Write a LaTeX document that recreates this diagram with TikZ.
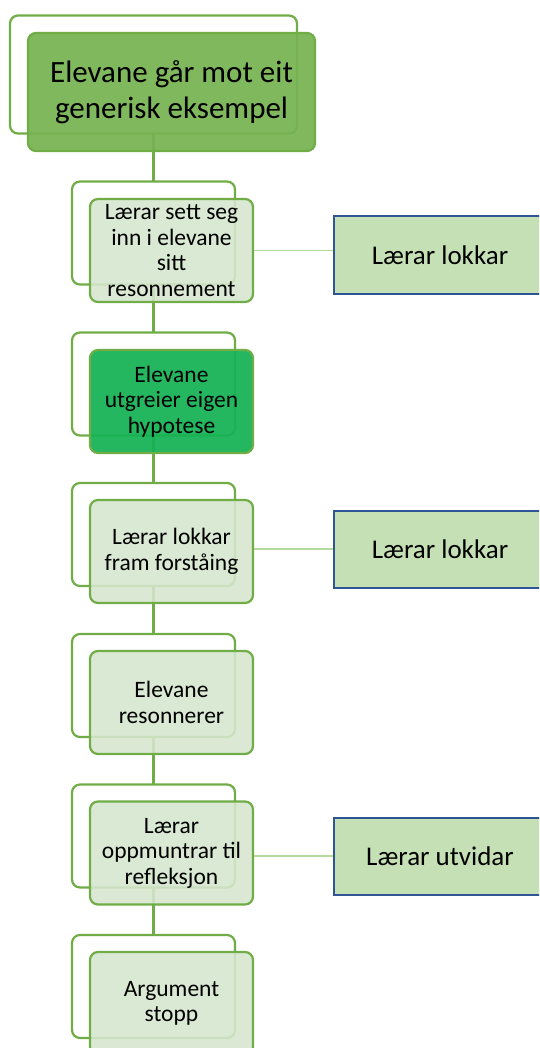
\documentclass[tikz,border=0pt]{standalone}
\usepackage{fontspec}
\setmainfont{Carlito}
\usepackage{tikz}
\usetikzlibrary{shapes}
\definecolor{vert}{HTML}{70AD47}
\definecolor{vertfonce}{HTML}{77B352}
\definecolor{vertvif}{HTML}{14B254}
\definecolor{vertpale}{HTML}{D6E6CE}
\definecolor{vertclair}{HTML}{C5E0B4}
\definecolor{trait}{HTML}{B4D99C}
\definecolor{bleu}{HTML}{2F5597}

\begin{document}
\begin{tikzpicture}[x=1pt,y=-1pt]
  \tikzstyle{ombre}=[rectangle, draw=vert, fill=white, line width=2.2pt, rounded corners=8pt, minimum width=163pt, minimum height=103pt, inner sep=0pt]
  \tikzstyle{etape}=[ombre, fill=vertpale, fill opacity=0.88, text opacity=1, align=center, font=\fontsize{23.5}{25.5}\selectfont]
  \tikzstyle{appel}=[rectangle, draw=bleu, fill=vertclair, line width=2pt, minimum width=212pt, minimum height=77pt, inner sep=0pt, font=\fontsize{27}{32}\selectfont]
  \useasboundingbox (0,0) rectangle (539,1048);
  \clip (0,0) rectangle (539,1048);
  % colonne
  \draw[vert, line width=2.2pt] (153.5,74.5) -- (153.5,990);
  % cadres de fond
  \node[ombre, minimum width=287pt, minimum height=118pt] (o0) at (153.5,74.5) {};
  \node[ombre] (o1) at (153.5,233) {};
  \node[ombre] (o2) at (153.5,384) {};
  \node[ombre] (o3) at (153.5,534.5) {};
  \node[ombre] (o4) at (153.5,685.5) {};
  \node[ombre] (o5) at (153.5,836) {};
  \node[ombre] (o6) at (153.5,986.5) {};
  % etapes
  \node[etape, fill=vertfonce, fill opacity=0.93, minimum width=287pt, minimum height=118pt, font=\fontsize{31}{36}\selectfont] (t0) at (171.5,92) {Elevane går mot eit\\generisk eksempel};
  \node[etape] (t1) at (171.5,250.5) {Lærar sett seg\\inn i elevane\\sitt\\resonnement};
  \node[etape, fill=vertvif, fill opacity=0.93] (t2) at (171.5,401.5) {Elevane\\utgreier eigen\\hypotese};
  \node[etape] (t3) at (171.5,551.5) {Lærar lokkar\\fram forståing};
  \node[etape] (t4) at (171.5,702.5) {Elevane\\resonnerer};
  \node[etape] (t5) at (171.5,853) {Lærar\\oppmuntrar til\\refleksjon};
  \node[etape] (t6) at (171.5,1003.5) {Argument\\stopp};
  % lokking
  \node[appel] (l1) at (440,255) {Lærar lokkar};
  \node[appel] (l2) at (440,549) {Lærar lokkar};
  \node[appel] (l3) at (440,856) {Lærar utvidar};
  \draw[trait, line width=1.3pt] (t1.east) -- (t1.east -| l1.west);
  \draw[trait, line width=1.3pt] (t3.east |- l2.west) -- (l2.west);
  \draw[trait, line width=1.3pt] (t5.east |- l3.west) -- (l3.west);
\end{tikzpicture}
\end{document}
